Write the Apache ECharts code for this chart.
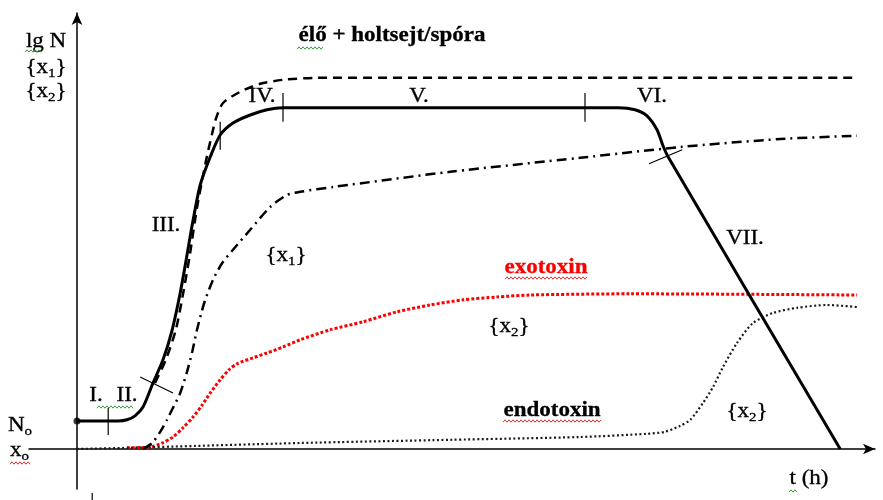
<!DOCTYPE html>
<html>
<head>
<meta charset="utf-8">
<script src="https://cdn.jsdelivr.net/npm/echarts@6/dist/echarts.min.js"></script>
<style>
  html, body { margin: 0; padding: 0; background: #fff; }
  #chart { width: 883px; height: 500px; }
</style>
</head>
<body>
<div id="chart"></div>
<script>
// görbék adatai: [t, lg N] párok (sematikus egységek)
const liveCells = [
  [0, 0.70], [1.03, 0.70], [1.25, 0.73], [1.45, 0.83], [1.65, 1.05], [1.9, 1.65],
  [2.15, 2.23], [2.38, 2.98], [2.58, 3.9], [2.73, 4.73], [2.88, 5.6], [3.08, 6.6],
  [3.33, 7.3], [3.58, 7.85], [3.9, 8.15], [4.33, 8.35], [4.75, 8.48], [5.15, 8.53],
  [13.53, 8.53], [13.95, 8.48], [14.25, 8.33], [14.5, 7.98], [14.65, 7.58],
  [14.78, 7.3], [19.08, 0]
];
const totalCells = [
  [1.95, 1.65], [2.22, 2.23], [2.47, 2.98], [2.67, 3.98], [2.82, 4.85], [3.0, 6.03],
  [3.22, 7.18], [3.37, 7.85], [3.48, 8.28], [3.65, 8.65], [4.08, 8.93], [4.58, 9.13],
  [5.15, 9.23], [6.0, 9.28], [19.38, 9.28]
];
const product1 = [
  [1.65, 0], [1.88, 0.15], [2.08, 0.43], [2.25, 0.73], [2.4, 1.03], [2.58, 1.4],
  [2.75, 1.93], [2.88, 2.43], [3.0, 2.98], [3.18, 3.65], [3.4, 4.23], [3.63, 4.65],
  [3.9, 4.98], [4.33, 5.48], [4.83, 6.05], [5.25, 6.35], [5.58, 6.43], [6.4, 6.55],
  [9.33, 6.93], [12.58, 7.28], [15.08, 7.55], [17.58, 7.75], [19.5, 7.83]
];
const exotoxin = [
  [1.25, 0.03], [1.83, 0.05], [2.13, 0.15], [2.4, 0.3], [2.65, 0.53], [2.9, 0.8],
  [3.13, 1.1], [3.33, 1.4], [3.58, 1.73], [3.8, 1.98], [4.0, 2.13], [4.4, 2.28],
  [4.75, 2.4], [5.15, 2.55], [5.58, 2.73], [6.33, 2.98], [7.15, 3.18], [8.0, 3.43],
  [8.83, 3.6], [9.65, 3.73], [10.5, 3.8], [11.33, 3.85], [13.83, 3.88], [19.5, 3.85]
];
const endotoxin = [
  [0, 0], [1.33, 0.03], [5.58, 0.15], [9.33, 0.23], [12.58, 0.3], [14.25, 0.38],
  [14.7, 0.43], [15.08, 0.58], [15.33, 0.73], [15.65, 1.15], [15.9, 1.55],
  [16.15, 2.05], [16.5, 2.65], [16.9, 3.15], [17.4, 3.4], [18.0, 3.53],
  [18.75, 3.6], [19.5, 3.55]
];
// fázishatár-jelek
const phaseTicks = [
  [[0.78, 1.03], [0.78, 0.35]],
  [[1.58, 1.8], [2.4, 1.4]],
  [[3.58, 8.18], [3.58, 7.48]],
  [[5.15, 8.9], [5.15, 8.18]],
  [[12.7, 8.9], [12.7, 8.18]],
  [[14.3, 7.13], [15.13, 7.48]],
  [[0.38, -1.1], [0.38, -1.28]]
];

const serif = '"Liberation Serif", "Times New Roman", serif';
const sub = { fontSize: 13, fontFamily: serif, lineHeight: 13, verticalAlign: 'bottom' };

// feliratok: szöveg, középpont x, y, extra
const labels = [
  ['lg N', 46, 41.5],
  ['{x{s|1}}', 46, 67.5],
  ['{x{s|2}}', 46, 91.5],
  ['élő + holtsejt/spóra', 392, 35.5, { fontWeight: 'bold' }],
  ['IV.', 262, 96.5],
  ['V.', 419, 96.5],
  ['VI.', 652, 96.5],
  ['III.', 166, 225.5],
  ['{x{s|1}}', 286, 255.5],
  ['VII.', 745, 238.5],
  ['exotoxin', 546, 267.5, { fill: '#ff0000', fontWeight: 'bold' }],
  ['{x{s|2}}', 509, 326.5],
  ['endotoxin', 552, 410.5, { fontWeight: 'bold' }],
  ['{x{s|2}}', 747, 411.5],
  ['I.', 96, 395.5],
  ['II.', 127, 395.5],
  ['N{s|o}', 8, 425.5, { align: 'left' }],
  ['x{s|o}', 10, 450.5, { align: 'left' }],
  ['t (h)', 809, 478.5]
];

// helyesírás-ellenőrző hullámvonalak
const squiggles = [
  [25, 44, 51, '#3a9a3a'], [297, 323, 48, '#3a9a3a'], [97, 133, 407, '#3a9a3a'],
  [789, 798, 491, '#3a9a3a'], [505, 588, 278, '#e03030'], [503, 602, 421, '#e03030'],
  [10, 31, 463, '#e03030']
];

const graphic = [];
labels.forEach(function (l) {
  graphic.push({
    type: 'text', x: l[1], y: l[2], scaleX: 1.15, z: 100,
    style: Object.assign({
      text: l[0], fontSize: 20, fontFamily: serif, lineHeight: 26,
      fill: '#000', stroke: l[3] && l[3].fill ? l[3].fill : '#000', lineWidth: 0.3,
      align: 'center', verticalAlign: 'middle',
      rich: { s: sub }
    }, l[3] || {})
  });
});
squiggles.forEach(function (q) {
  const pts = [];
  for (let x = q[0], i = 0; x <= q[1]; x += 2, i++) pts.push([x, q[2] + (i % 2 ? -1.2 : 1.2)]);
  graphic.push({ type: 'polyline', z: 100, shape: { points: pts }, style: { stroke: q[3], lineWidth: 1, fill: null } });
});

const axisCommon = {
  type: 'value',
  axisLine: { onZero: true, symbol: ['none', 'arrow'], symbolSize: [8, 12], lineStyle: { color: '#000', width: 1.5 } },
  axisTick: { show: false },
  axisLabel: { show: false },
  splitLine: { show: false }
};

const series = [
  { name: 'élő', type: 'line', data: liveCells, smooth: 0.25, symbol: 'none', z: 5,
    lineStyle: { color: '#000', width: 3 } },
  { name: 'élő + holt', type: 'line', data: totalCells, smooth: 0.25, symbol: 'none', z: 4,
    lineStyle: { color: '#000', width: 2.5, type: [9, 6] } },
  { name: 'x1', type: 'line', data: product1, smooth: 0.25, symbol: 'none', z: 4,
    lineStyle: { color: '#000', width: 2.5, type: [10, 5, 2, 5] } },
  { name: 'exotoxin', type: 'line', data: exotoxin, smooth: 0.25, symbol: 'none', z: 3,
    lineStyle: { color: '#ff0000', width: 3, type: [3, 2] } },
  { name: 'endotoxin', type: 'line', data: endotoxin, smooth: 0.25, symbol: 'none', z: 3,
    lineStyle: { color: '#1a1a1a', width: 2.2, type: [2, 2.5] } },
  { name: 'N0', type: 'scatter', data: [liveCells[0]], symbolSize: 7, z: 6,
    itemStyle: { color: '#000' } }
];
phaseTicks.forEach(function (seg) {
  series.push({ type: 'line', data: seg, symbol: 'none', clip: false, z: 6, silent: true,
    lineStyle: { color: '#000', width: 1.2 } });
});

const myChart = echarts.init(document.getElementById('chart'));
const option = {
  animation: false,
  grid: { left: 29, right: 8, top: 13, bottom: 11 },
  xAxis: Object.assign({}, axisCommon, { min: -1.2, max: 19.95 }),
  yAxis: Object.assign({}, axisCommon, { min: -1, max: 10.9 }),
  series: series,
  graphic: graphic
};
option && myChart.setOption(option);
</script>
</body>
</html>
